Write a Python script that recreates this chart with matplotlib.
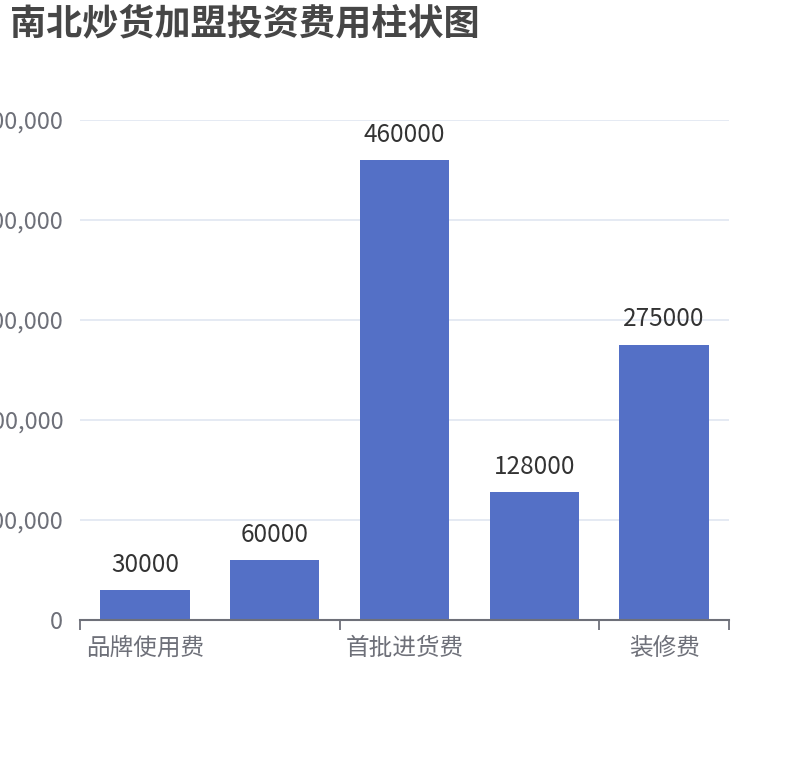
import numpy as np
import matplotlib
matplotlib.use('Agg')
import matplotlib.pyplot as plt
from matplotlib.ticker import FuncFormatter, FixedLocator

plt.rcParams['font.family'] = ['Noto Sans CJK SC', 'DejaVu Sans']

# data (labels for categories 2 and 4 are hidden in the reference)
categories = ['品牌使用费', '加盟费', '首批进货费', '设备费', '装修费']
values = [30000, 60000, 460000, 128000, 275000]
yticks = [0, 100000, 200000, 300000, 400000, 500000]

barColor = '#5470c6'
axisColor = '#6e7079'
gridColor = '#e0e6f1'

def main():
    fig = plt.figure(figsize=(8.1, 7.6), dpi=100)
    ax = fig.add_axes([80 / 810, 1 - 620 / 760, 649 / 810, 500 / 760])

    x = np.arange(len(categories))
    bars = ax.bar(x, values, width=0.69, color=barColor, zorder=3)

    # value labels above bars
    for rect, v in zip(bars, values):
        ax.annotate(str(v), (rect.get_x() + rect.get_width() / 2, rect.get_height()),
                    xytext=(0, 9), textcoords='offset points',
                    ha='center', va='bottom', fontsize=17.5, color='#333333')

    ax.set_xlim(-0.5, len(categories) - 0.5)
    ax.set_ylim(0, 500000)

    # y axis
    ax.set_yticks(yticks)
    ax.yaxis.set_major_formatter(FuncFormatter(lambda v, p: f'{int(v):,}'))
    ax.tick_params(axis='y', length=0, pad=12, labelsize=17, labelcolor=axisColor)
    ax.grid(axis='y', color=gridColor, linewidth=1.2, zorder=0)

    # x axis: every other label shown, ticks at category boundaries
    shown = list(range(0, len(categories), 2))
    ax.xaxis.set_major_locator(FixedLocator([i - 0.5 for i in shown] + [len(categories) - 0.5]))
    ax.xaxis.set_major_formatter(FuncFormatter(lambda v, p: ''))
    ax.xaxis.set_minor_locator(FixedLocator(shown))
    ax.set_xticklabels([categories[i] for i in shown], minor=True)
    ax.tick_params(axis='x', which='major', length=7, width=1.3, color=axisColor, direction='out')
    ax.tick_params(axis='x', which='minor', length=0, pad=12, labelsize=17, labelcolor=axisColor)

    for side in ['top', 'right', 'left']:
        ax.spines[side].set_visible(False)
    ax.spines['bottom'].set_color(axisColor)
    ax.spines['bottom'].set_linewidth(1.5)
    ax.spines['bottom'].set_zorder(4)

    fig.text(10 / 810, 1 - 5 / 760, '南北炒货加盟投资费用柱状图', ha='left', va='top',
             fontsize=26, fontweight='bold', color='#464646')

    fig.savefig('out.png', dpi=100)

if __name__ == "__main__":
    main()
